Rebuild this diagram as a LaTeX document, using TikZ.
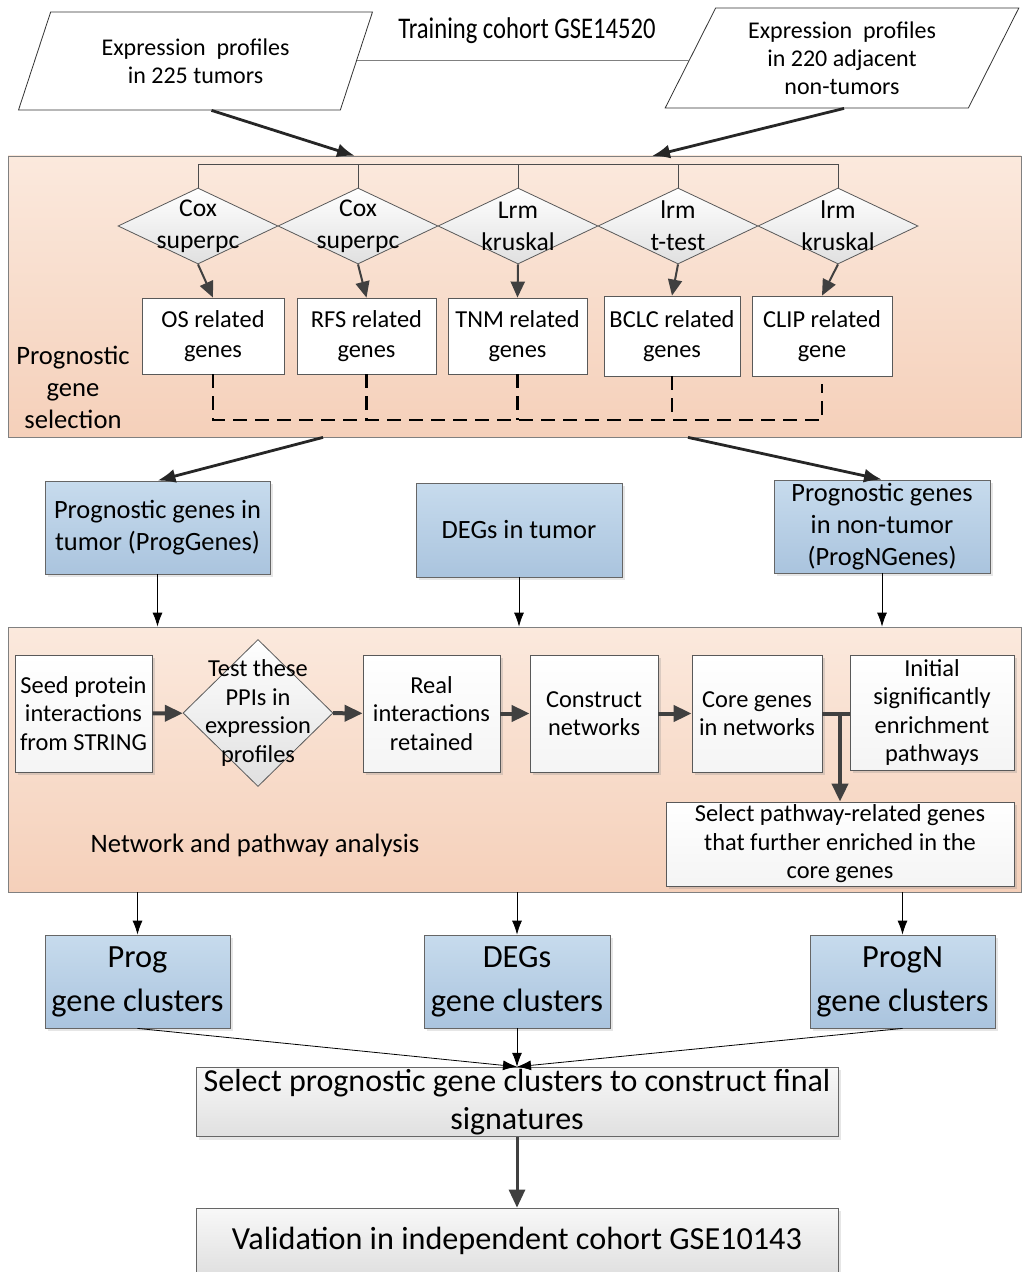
\documentclass[tikz,border=0pt]{standalone}
\usepackage{fontspec}
\setmainfont{Carlito}
\usepackage{tikz}
\usetikzlibrary{arrows.meta,positioning,shapes.geometric,shadows}
\definecolor{paneltop}{RGB}{251,233,221}
\definecolor{panelbot}{RGB}{245,208,186}
\definecolor{bluetop}{RGB}{199,219,237}
\definecolor{bluebot}{RGB}{170,196,222}
\definecolor{greytop}{RGB}{248,248,248}
\definecolor{greybot}{RGB}{224,224,224}
\definecolor{linegrey}{RGB}{64,64,64}

\begin{document}
\begin{tikzpicture}[x=0.5pt, y=-0.5pt,
  panel/.style={draw=gray, top color=paneltop, bottom color=panelbot, inner sep=0pt},
  para/.style={draw=black!80, trapezium, trapezium stretches=true, align=center, font=\fontsize{12}{14}\selectfont, fill=white},
  dia/.style={draw=gray!70!black, diamond, inner sep=0pt, top color=white, bottom color=greybot},
  dlab/.style={align=center, font=\fontsize{12.8}{16}\selectfont},
  gbox/.style={draw=gray!70!black, fill=white, align=center, font=\fontsize{12.2}{15}\selectfont, inner sep=1pt},
  wbox/.style={draw=gray!70!black, top color=white, bottom color=greytop!85!greybot, align=center, font=\fontsize{12.2}{14.2}\selectfont, inner sep=1pt,
    drop shadow={shadow xshift=1.5pt, shadow yshift=-1.5pt, opacity=0.25}},
  bbox/.style={draw=gray!80!black, top color=bluetop, bottom color=bluebot, align=center, font=\fontsize{13.2}{16}\selectfont, inner sep=1pt,
    drop shadow={shadow xshift=1.5pt, shadow yshift=-1.5pt, opacity=0.2}},
  fbox/.style={draw=gray!80!black, top color=greytop, bottom color=greybot, align=center, inner sep=1pt,
    drop shadow={shadow xshift=1.5pt, shadow yshift=-1.5pt, opacity=0.2}},
  bigarr/.style={-{Latex[length=9pt,width=7pt]}, line width=1.4pt, black!85},
  darr/.style={-{Triangle[length=8pt,width=7pt]}, line width=1pt, linegrey},
  rowarr/.style={-{Triangle[length=9pt,width=8pt]}, line width=2pt, linegrey},
  tarr/.style={-{Latex[length=7pt,width=5pt]}, thin, black},
  dsh/.style={dashed, dash pattern=on 7pt off 4pt, line width=1.2pt}
]
  \useasboundingbox (0,0) rectangle (1021,1272);

  % inputs
  \node[para, trapezium left angle=69, trapezium right angle=111, minimum width=177pt, minimum height=49pt] (tum) at (195.5,61) {Expression~ profiles\\in 225 tumors};
  \node[para, trapezium left angle=65, trapezium right angle=115, minimum width=177pt, minimum height=50pt] (adj) at (842,58) {Expression~ profiles\\in 220 adjacent\\non-tumors};
  \node[font=\fontsize{15}{18}\selectfont, transform shape, xscale=0.82] (train) at (527,31) {Training cohort GSE14520};
  \draw[gray] (tum.east |- 0,60) -- (adj.west |- 0,60);

  % prognostic gene selection
  \node[panel, minimum width=506.5pt, minimum height=140.5pt] (sel) at (514.5,296.5) {};
  \node[align=center, font=\fontsize{13.3}{16}\selectfont] (sellab) at (73,387) {Prognostic\\gene\\selection};
  \coordinate (inL) at (355,156);
  \coordinate (inR) at (652,156);
  \draw[bigarr] ([xshift=8pt]tum.south) -- (inL);
  \draw[bigarr] ([xshift=1pt]adj.south) -- (inR);

  \node[dia, minimum width=80pt, minimum height=38pt, label={[dlab]center:Cox\\superpc}] (d1) at (198,226) {};
  \node[dia, minimum width=80pt, minimum height=38pt, label={[dlab]center:Cox\\superpc}] (d2) at (358,226) {};
  \node[dia, minimum width=80pt, minimum height=38pt, label={[dlab]center:Lrm\\kruskal}] (d3) at (518,226) {};
  \node[dia, minimum width=80pt, minimum height=38pt, label={[dlab]center:lrm\\t-test}] (d4) at (678,226) {};
  \node[dia, minimum width=80pt, minimum height=38pt, label={[dlab]center:lrm\\kruskal}] (d5) at (838,226) {};

  \coordinate (bus) at (0,164);
  \draw[gray!60!black] (d1.north) -- (d1.north |- bus) -- (d5.north |- bus) -- (d5.north);
  \foreach \d in {d2,d3,d4}
    \draw[gray!60!black] (\d.north) -- (\d.north |- bus);

  \node[gbox, minimum width=71pt, minimum height=38pt] (g1) at (213,336) {OS related\\genes};
  \node[gbox, minimum width=69.5pt, minimum height=38pt] (g2) at (366.5,336) {RFS related\\genes};
  \node[gbox, minimum width=69.5pt, minimum height=38pt] (g3) at (517.5,336) {TNM related\\genes};
  \node[gbox, minimum width=68pt, minimum height=40pt] (g4) at (672,336) {BCLC related\\genes};
  \node[gbox, minimum width=70pt, minimum height=40pt] (g5) at (822,336) {CLIP related\\gene};
  \foreach \i in {1,...,5}
    \draw[darr] (d\i.south) -- (g\i.north);

  \coordinate (dash) at (0,420);
  \draw[dsh] (g1.south) |- (g5.south |- dash) -- ([yshift=-4pt]g5.south);
  \foreach \i in {2,3,4}
    \draw[dsh] (g\i.south) -- (g\i.south |- dash);

  % gene sets
  \node[bbox, minimum width=112.5pt, minimum height=46.5pt] (pg) at (157.5,527.5) {Prognostic genes in\\tumor (ProgGenes)};
  \node[bbox, minimum width=103pt, minimum height=47pt] (deg) at (519,530) {DEGs in tumor};
  \node[bbox, minimum width=108pt, minimum height=46.5pt] (png) at (882,526.5) {Prognostic genes\\in non-tumor\\(ProgNGenes)};
  \draw[bigarr] ([xshift=-95.75pt]sel.south) -- (pg.north);
  \draw[bigarr] ([xshift=86.75pt]sel.south) -- (png.north);

  % network and pathway analysis
  \node[panel, minimum width=506.5pt, minimum height=132.5pt] (net) at (514.5,759.5) {};
  \node[font=\fontsize{13.3}{16}\selectfont] (netlab) at (255,845) {Network and pathway analysis};
  \draw[tarr] (pg.south) -- (pg.south |- net.north);
  \draw[tarr] (deg.south) -- (deg.south |- net.north);
  \draw[tarr] (png.south) -- (png.south |- net.north);

  \node[wbox, minimum width=68.5pt, minimum height=58.5pt] (seed) at (83.5,713.5) {Seed protein\\interactions\\from STRING};
  \node[dia, minimum width=75pt, minimum height=73.5pt, label={[align=center, font=\fontsize{12.2}{14.2}\selectfont]center:Test these\\PPIs in\\expression\\profiles}] (test) at (258,713) {};
  \node[wbox, minimum width=68.5pt, minimum height=58.5pt] (real) at (431.5,713.5) {Real\\interactions\\retained};
  \node[wbox, minimum width=64pt, minimum height=58.5pt] (cons) at (594,713.5) {Construct\\networks};
  \node[wbox, minimum width=65pt, minimum height=58.5pt] (core) at (757,713.5) {Core genes\\in networks};
  \node[wbox, minimum width=82pt, minimum height=57.5pt] (init) at (932,712.5) {Initial\\significantly\\enrichment\\pathways};
  \node[wbox, minimum width=174pt, minimum height=42pt] (path) at (840,844) {Select pathway-related genes\\that further enriched in the\\core genes};
  \draw[rowarr] (seed) -- (test);
  \draw[rowarr] (test) -- (real);
  \draw[rowarr] (real) -- (cons);
  \draw[rowarr] (cons) -- (core);
  \draw[line width=2pt, linegrey] (core.east) -- (init.west |- core.east);
  \draw[rowarr] (path.north |- core.east) -- (path.north);

  % clusters
  \node[bbox, font=\fontsize{16.2}{22}\selectfont, minimum width=92.5pt, minimum height=46.5pt] (pc) at (137.5,981.5) {Prog\\gene clusters};
  \node[bbox, font=\fontsize{16.2}{22}\selectfont, minimum width=93pt, minimum height=46.5pt] (dc) at (517,981.5) {DEGs\\gene clusters};
  \node[bbox, font=\fontsize{16.2}{22}\selectfont, minimum width=92.5pt, minimum height=46.5pt] (nc) at (902.5,981.5) {ProgN\\gene clusters};
  \draw[tarr] (pc.north |- net.south) -- (pc.north);
  \draw[tarr] (dc.north |- net.south) -- (dc.north);
  \draw[tarr] (nc.north |- net.south) -- (nc.north);

  % final signatures
  \node[fbox, font=\fontsize{16}{19}\selectfont, minimum width=321pt, minimum height=34pt] (fin) at (517,1102) {Select prognostic gene clusters to construct final\\signatures};
  \node[fbox, font=\fontsize{16.1}{18}\selectfont, minimum width=321pt, minimum height=33pt] (val) at (517,1241) {Validation in independent cohort GSE10143};
  \draw[tarr] (pc.south) -- (fin.north);
  \draw[tarr] (dc.south) -- (fin.north);
  \draw[tarr] (nc.south) -- (fin.north);
  \draw[rowarr, line width=1.5pt] (fin.south) -- (val.north);
\end{tikzpicture}
\end{document}
